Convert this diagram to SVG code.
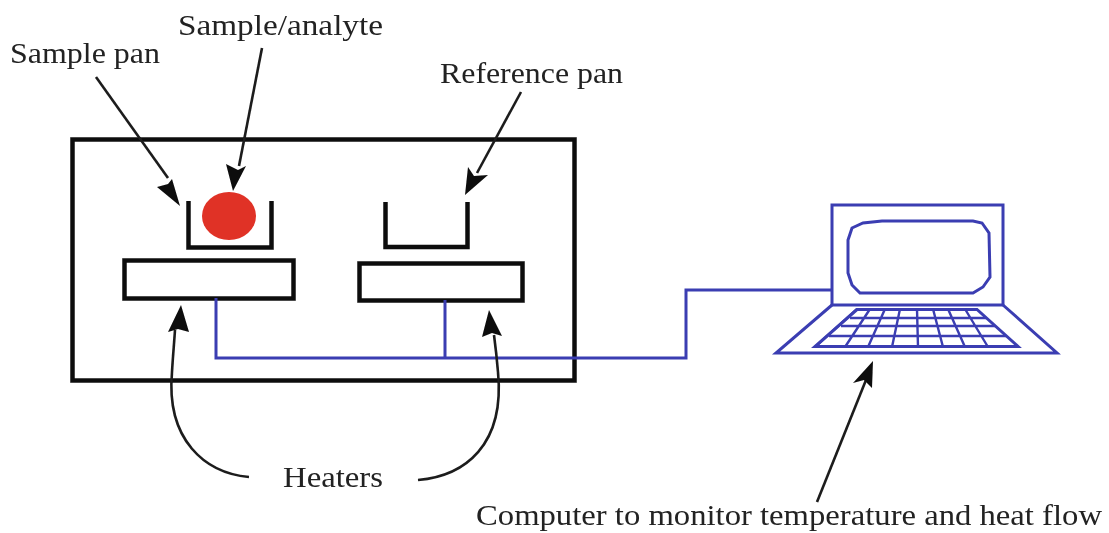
<svg xmlns="http://www.w3.org/2000/svg" width="1109" height="533" viewBox="0 0 1109 533">
<defs><filter id="soft" x="0" y="0" width="100%" height="100%"><feGaussianBlur stdDeviation="0.55"/></filter></defs>
<style>
.k{fill:none;stroke:#0c0c0c;stroke-width:4.500}
.a{fill:none;stroke:#1c1c1c;stroke-width:2.600}
.h{fill:#0c0c0c;stroke:none}
.b{fill:none;stroke:#3a3eb2;stroke-width:3}
.l{fill:none;stroke:#3a3eb2;stroke-width:2.400}
text{font-family:"Liberation Serif","DejaVu Serif",serif;font-size:30px;fill:#222}
</style>
<rect width="1109" height="533" fill="#fff"/>
<g filter="url(#soft)">
<g id="enclosure"><rect class="k" x="72.500" y="139.500" width="502" height="241"/></g>
<g id="sample-heater"><rect class="k" x="124.500" y="260.500" width="169" height="38"/></g>
<g id="reference-heater"><rect class="k" x="359.500" y="263.500" width="163" height="37"/></g>
<g id="sample-pan"><path class="k" d="M188.500 201V247.500H271.500V201"/></g>
<g id="reference-pan"><path class="k" d="M385.500 202V247H467.500V202"/></g>
<g id="sample"><ellipse cx="229" cy="216" rx="27" ry="24" fill="#e03125"/></g>
<g id="computer">
<rect class="b" x="832" y="205" width="171" height="100"/>
<path class="b" d="M882 221H973L982 223L989 233L990 277L983 287L973 293H860L852 285L848 273V240L852 228L863 223Z"/>
<path class="b" d="M832 305L776 353H1057L1003 305"/>
<path class="b" d="M857 309.500H977L1018 346.500H815Z"/>
<path class="l" d="M850 318H986M841 326H995M829 336H1006M857 309L815 347M870 309L845 347M885 309L868 347M900 309L892 347M917 309L918 347M933 309L943 347M948 309L965 347M965 309L988 347"/>
</g>
<g id="connectors">
<path class="b" d="M216 298V358H686V290H832M445 300V358"/>
<path class="a" d="M96 77L168 178"/><path class="h" d="M180 206L157 187L168 184L172 179Z"/>
<path class="a" d="M262 48L239 166"/><path class="h" d="M233 191L226 164L238 170L246 166Z"/>
<path class="a" d="M521 92L477 173"/><path class="h" d="M465 195L468 167L474 176L488 175Z"/>
<path class="a" d="M249 477C205 473 166 440 172 372C173 355 174 345 175 330"/><path class="h" d="M181 305L189 332L178 329L168 332Z"/>
<path class="a" d="M418 480C465 476 505 445 498 372C497 360 496 350 494 335"/><path class="h" d="M489 310L502 336L492 333L482 337Z"/>
<path class="a" d="M817 502L866 380"/><path class="h" d="M873 361L872 388L864 380L853 383Z"/>
</g>
<g id="labels">
<text x="10" y="63" textLength="150" lengthAdjust="spacingAndGlyphs">Sample pan</text>
<text x="178" y="35" textLength="205" lengthAdjust="spacingAndGlyphs">Sample/analyte</text>
<text x="440" y="83" textLength="183" lengthAdjust="spacingAndGlyphs">Reference pan</text>
<text x="283" y="487" textLength="100" lengthAdjust="spacingAndGlyphs">Heaters</text>
<text x="476" y="525" textLength="626" lengthAdjust="spacingAndGlyphs">Computer to monitor temperature and heat flow</text>
</g>
</g>
</svg>
